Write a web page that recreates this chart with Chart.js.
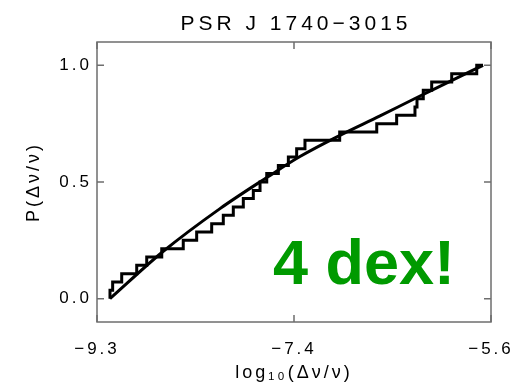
<!DOCTYPE html>
<html>
<head>
<meta charset="utf-8">
<script src="https://cdn.jsdelivr.net/npm/chart.js@4.4.1/dist/chart.umd.min.js"></script>
<style>
  html, body { margin: 0; padding: 0; background: #fff; }
  #chart { display: block; }
</style>
</head>
<body>
<canvas id="chart" width="525" height="388"></canvas>
<script>
// glitch sizes log10(dnu/nu) where the cumulative distribution steps up
const glitchLogSize = [-9.178, -9.178, -9.153, -9.068, -8.927, -8.833, -8.692, -8.490, -8.364, -8.223,
  -8.114, -8.020, -7.926, -7.832, -7.769, -7.706, -7.597, -7.503, -7.425, -7.347,
  -7.021, -6.673, -6.486, -6.314, -6.295, -6.236, -6.157, -5.969, -5.734, -5.675];
const cumulativeProb = [0.000, 0.036, 0.071, 0.107, 0.143, 0.179, 0.214, 0.250, 0.286, 0.321,
  0.357, 0.393, 0.429, 0.464, 0.500, 0.536, 0.571, 0.607, 0.643, 0.679,
  0.714, 0.750, 0.786, 0.821, 0.857, 0.893, 0.929, 0.964, 1.000, 1.000];

// model curve
const modelLogSize = [-9.178, -8.680, -8.145, -7.706, -7.394, -7.018, -6.642, -6.314, -5.985, -5.675];
const modelProb = [0.000, 0.202, 0.386, 0.519, 0.609, 0.700, 0.783, 0.858, 0.931, 1.000];

const xTickValues = [-9.3, -7.45, -5.6];
const xTickLabels = ["\u22129.3", "\u22127.4", "\u22125.6"];
const yTickValues = [0, 0.5, 1];
const yTickLabels = ["0.0", "0.5", "1.0"];

const FONT = "'Liberation Sans', Arial, sans-serif";
Chart.defaults.font.family = FONT;
Chart.defaults.color = "#000";

const frame = {
  id: "frame",
  beforeDraw(chart) {
    chart.ctx.letterSpacing = "3px";
  },
  afterDraw(chart) {
    const { ctx, chartArea: a, scales } = chart;
    ctx.save();
    ctx.letterSpacing = "0px";
    ctx.strokeStyle = "#6e6e6e";
    ctx.lineWidth = 1.5;
    ctx.strokeRect(a.left, a.top, a.right - a.left, a.bottom - a.top);

    const len = 7;
    ctx.beginPath();
    scales.x.ticks.forEach(t => {
      const px = scales.x.getPixelForValue(t.value);
      ctx.moveTo(px, a.bottom); ctx.lineTo(px, a.bottom - len);
      ctx.moveTo(px, a.top); ctx.lineTo(px, a.top + len);
    });
    scales.y.ticks.forEach(t => {
      const py = scales.y.getPixelForValue(t.value);
      ctx.moveTo(a.left, py); ctx.lineTo(a.left + len, py);
      ctx.moveTo(a.right, py); ctx.lineTo(a.right - len, py);
    });
    ctx.stroke();

    ctx.fillStyle = "#000";
    ctx.font = "21px " + FONT;
    ctx.letterSpacing = "4px";
    ctx.textAlign = "center";
    ctx.textBaseline = "alphabetic";
    ctx.fillText("PSR J 1740\u22123015", (a.left + a.right) / 2 + 2, 30);

    ctx.letterSpacing = "0px";
    ctx.fillStyle = "#009a00";
    ctx.font = "bold 63px " + FONT;
    ctx.textAlign = "left";
    ctx.fillText("4 dex!", scales.x.getPixelForValue(-7.647), scales.y.getPixelForValue(0.064));
    ctx.restore();
  }
};

new Chart(document.getElementById("chart"), {
  type: "line",
  data: {
    datasets: [
      {
        data: glitchLogSize.map((x, i) => ({ x, y: cumulativeProb[i] })),
        stepped: "before",
        borderColor: "#000",
        borderWidth: 3,
        borderJoinStyle: "miter",
        pointRadius: 0,
        fill: false
      },
      {
        data: modelLogSize.map((x, i) => ({ x, y: modelProb[i] })),
        borderColor: "#000",
        borderWidth: 3,
        cubicInterpolationMode: "monotone",
        pointRadius: 0,
        fill: false
      }
    ]
  },
  options: {
    responsive: false,
    animation: false,
    devicePixelRatio: 1,
    layout: { padding: { top: 42, right: 34, left: 0, bottom: 0 } },
    plugins: {
      legend: { display: false },
      tooltip: { enabled: false }
    },
    scales: {
      x: {
        type: "linear",
        min: -9.3,
        max: -5.6,
        grid: { display: false, drawTicks: false },
        border: { display: false },
        afterBuildTicks: s => { s.ticks = xTickValues.map(v => ({ value: v })); },
        afterFit: s => { s.height = 66; },
        ticks: {
          font: { size: 17 },
          padding: 17,
          maxRotation: 0,
          callback: (v, i) => xTickLabels[i]
        },
        title: {
          display: true,
          text: "log\u2081\u2080(\u0394\u03bd/\u03bd)",
          font: { size: 18 },
          padding: { top: 0, bottom: 4 }
        }
      },
      y: {
        type: "linear",
        min: -0.1,
        max: 1.1,
        grid: { display: false, drawTicks: false },
        border: { display: false },
        afterBuildTicks: s => { s.ticks = yTickValues.map(v => ({ value: v })); },
        afterFit: s => { s.width = 97; },
        ticks: {
          font: { size: 17 },
          padding: 5,
          callback: (v, i) => yTickLabels[i]
        },
        title: {
          display: true,
          text: "P(\u0394\u03bd/\u03bd)",
          font: { size: 18 },
          padding: { top: 23, bottom: 0 }
        }
      }
    }
  },
  plugins: [frame]
});
</script>
</body>
</html>
